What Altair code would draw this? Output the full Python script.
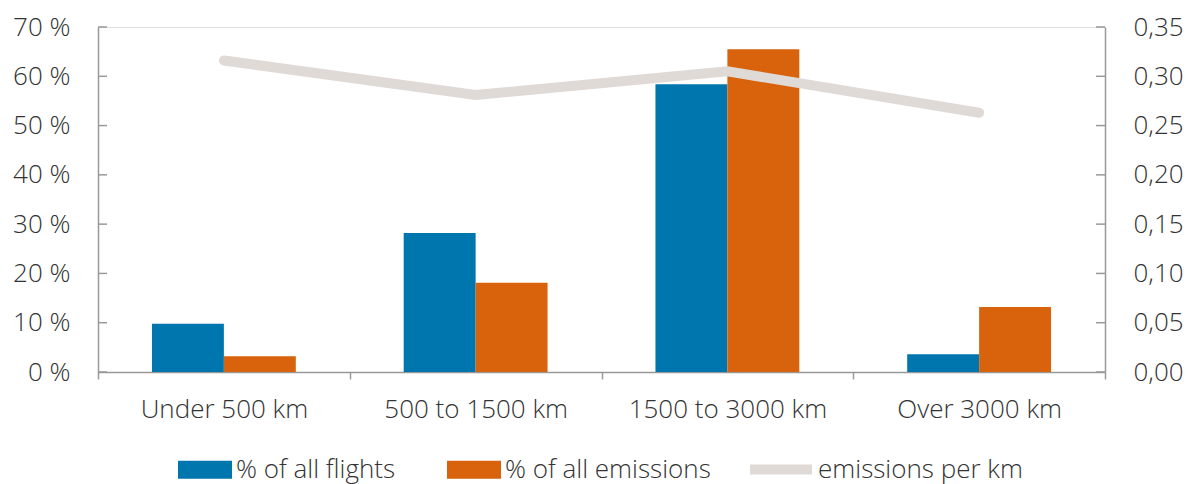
import altair as alt
import pandas as pd

categories = ["Under 500 km", "500 to 1500 km", "1500 to 3000 km", "Over 3000 km"]
series_names = ["% of all flights", "% of all emissions"]
flights = [9.8, 28.2, 58.4, 3.6]
emissions = [3.2, 18.1, 65.5, 13.2]
per_km = [0.316, 0.281, 0.305, 0.263]
line_name = "emissions per km"
left_ticks = [0, 10, 20, 30, 40, 50, 60, 70]
right_ticks = [0, 0.05, 0.10, 0.15, 0.20, 0.25, 0.30, 0.35]

BLUE = "#0076AE"
ORANGE = "#D9620C"
GREY_LINE = "#E0DAD7"
AXIS = "#999999"
TEXT = "#333333"
FONT = "Open Sans"
FS = 26
W, H = 1007, 345

bars_df = pd.DataFrame({
    "cat": categories * 2,
    "series": [series_names[0]] * len(categories) + [series_names[1]] * len(categories),
    "value": flights + emissions,
})
line_df = pd.DataFrame({"cat": categories, "per_km": per_km, "s": [line_name] * len(categories)})
tick_df = pd.DataFrame({"value": left_ticks})

x_enc = alt.X(
    "cat:N", sort=categories,
    scale=alt.Scale(paddingInner=0, paddingOuter=0),
    axis=alt.Axis(title=None, labelAngle=0, tickBand="extent", tickSize=7, labelPadding=17,
                  labelFontSize=FS, domainColor=AXIS, tickColor=AXIS, domainWidth=1.5, tickWidth=1.5,
                  grid=False, labelLimit=400),
)

y_left = alt.Y(
    "value:Q", scale=alt.Scale(domain=[0, 70], nice=False, zero=True),
    axis=alt.Axis(title=None, values=left_ticks, labelExpr="datum.value + ' %'", ticks=False,
                  labelPadding=28, labelFontSize=FS, domainColor=AXIS, domainWidth=1.5, grid=False,
                  labelLimit=200),
)

bars = alt.Chart(bars_df).mark_bar().encode(
    x=x_enc,
    xOffset=alt.XOffset("series:N", sort=series_names, scale=alt.Scale(paddingOuter=0.75, paddingInner=0)),
    y=y_left,
    color=alt.Color(
        "series:N", sort=series_names,
        scale=alt.Scale(domain=series_names, range=[BLUE, ORANGE]),
        legend=alt.Legend(
            title=None, orient="none", legendX=93.5, legendY=429, direction="horizontal",
            symbolType="M-2,-0.67H2V0.67H-2Z", symbolSize=729, symbolStrokeWidth=0,
            labelOffset=17.5, labelFontSize=FS, columnPadding=51, labelLimit=400,
        ),
    ),
)

ticks_left = alt.Chart(tick_df).mark_rule(color=AXIS, strokeWidth=1.5).encode(
    y="value:Q", x=alt.value(0), x2=alt.value(9)
)
ticks_right = alt.Chart(tick_df).mark_rule(color=AXIS, strokeWidth=1.5).encode(
    y="value:Q", x=alt.value(W - 9), x2=alt.value(W)
)

line = alt.Chart(line_df).mark_line(strokeWidth=10, strokeCap="round", strokeJoin="miter").encode(
    x=alt.X("cat:N", sort=categories),
    y=alt.Y(
        "per_km:Q", scale=alt.Scale(domain=[0, 0.35], nice=False),
        axis=alt.Axis(title=None, orient="right", values=right_ticks,
                      labelExpr="replace(format(datum.value, '.2f'), '.', ',')", ticks=False,
                      labelPadding=28, labelFontSize=FS, domainColor=AXIS, domainWidth=1.5, grid=False,
                      labelLimit=200),
    ),
    stroke=alt.Stroke(
        "s:N", scale=alt.Scale(domain=[line_name], range=[GREY_LINE]),
        legend=alt.Legend(
            title=None, orient="none", legendX=664.5, legendY=424, direction="horizontal",
            symbolType="M-2.3,0H2.3", symbolSize=729, symbolStrokeWidth=10,
            labelOffset=18.5, labelFontSize=FS, labelLimit=400,
        ),
    ),
)

chart = alt.layer(
    alt.layer(bars, ticks_left, ticks_right),
    line,
).resolve_scale(y="independent", color="independent").properties(
    width=W, height=H,
    padding={"left": 12, "top": 14, "right": 8, "bottom": 0},
).configure_view(stroke=None).configure(
    font=FONT,
).configure_axis(
    labelFont=FONT, labelFontWeight=300, labelColor=TEXT,
).configure_legend(
    labelFont=FONT, labelFontWeight=300, labelColor=TEXT,
)

chart.save("out.html", embed_options={"renderer": "svg", "actions": False})
